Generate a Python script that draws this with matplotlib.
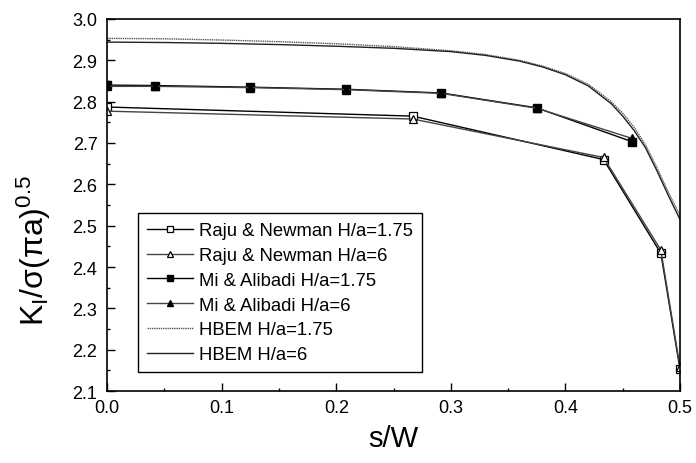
import matplotlib
matplotlib.use("Agg")
import matplotlib.pyplot as plt

plt.rcParams['font.family'] = ['Liberation Sans', 'DejaVu Sans']
plt.rcParams['mathtext.fontset'] = 'custom'
plt.rcParams['mathtext.rm'] = 'Liberation Sans'
plt.rcParams['mathtext.it'] = 'Liberation Sans:italic'
plt.rcParams['mathtext.sf'] = 'Liberation Sans'

# Raju & Newman
rn_x = [0.0, 0.2667, 0.4333, 0.4833, 0.5]
rn_175 = [2.787, 2.765, 2.660, 2.433, 2.153]
rn_6 = [2.777, 2.758, 2.665, 2.441, 2.158]

# Mi & Alibadi
ma_x = [0.0, 0.0417, 0.125, 0.2083, 0.2917, 0.375, 0.4583]
ma_175 = [2.840, 2.839, 2.835, 2.830, 2.821, 2.785, 2.703]
ma_6 = [2.837, 2.837, 2.834, 2.829, 2.820, 2.784, 2.711]

# HBEM
hb_x = [0.0, 0.05, 0.1, 0.15, 0.2, 0.25, 0.3, 0.33, 0.36, 0.38, 0.40, 0.42,
        0.44, 0.45, 0.46, 0.47, 0.48, 0.49, 0.5]
hb_175 = [2.953, 2.952, 2.949, 2.945, 2.940, 2.933, 2.923, 2.914, 2.900, 2.886,
          2.868, 2.842, 2.800, 2.772, 2.738, 2.695, 2.640, 2.580, 2.525]
hb_6 = [2.944, 2.943, 2.941, 2.938, 2.934, 2.929, 2.921, 2.912, 2.898, 2.884,
        2.865, 2.838, 2.795, 2.765, 2.730, 2.688, 2.632, 2.572, 2.515]

x_ticks = [0.0, 0.1, 0.2, 0.3, 0.4, 0.5]
y_ticks = [2.1, 2.2, 2.3, 2.4, 2.5, 2.6, 2.7, 2.8, 2.9, 3.0]

fig = plt.figure(figsize=(6.96, 4.64), dpi=100)
ax = fig.add_axes([0.154, 0.155, 0.823, 0.802])

ms = 6
ax.plot(rn_x, rn_175, '-', color='black', lw=1.0, marker='s', ms=ms,
        mfc='white', mec='black', mew=0.9, label='Raju & Newman H/a=1.75')
ax.plot(rn_x, rn_6, '-', color='#444444', lw=1.0, marker='^', ms=ms,
        mfc='white', mec='black', mew=0.9, label='Raju & Newman H/a=6')
ax.plot(ma_x, ma_175, '-', color='black', lw=1.0, marker='s', ms=ms,
        mfc='black', mec='black', label='Mi & Alibadi H/a=1.75')
ax.plot(ma_x, ma_6, '-', color='#444444', lw=1.0, marker='^', ms=ms,
        mfc='black', mec='black', label='Mi & Alibadi H/a=6')
ax.plot(hb_x, hb_175, color='#555555', lw=1.0, ls=(0, (1, 0.6)),
        label='HBEM H/a=1.75')
ax.plot(hb_x, hb_6, color='#222222', lw=1.0, ls='-', label='HBEM H/a=6')

ax.set_xlim(0.0, 0.5)
ax.set_ylim(2.1, 3.0)
ax.set_xticks(x_ticks)
ax.set_yticks(y_ticks)
ax.set_xticks([0.05, 0.15, 0.25, 0.35, 0.45], minor=True)
ax.set_yticks([2.15, 2.25, 2.35, 2.45, 2.55, 2.65, 2.75, 2.85, 2.95], minor=True)
ax.set_xticklabels([f'{v:.1f}' for v in x_ticks])
ax.set_yticklabels([f'{v:.1f}' for v in y_ticks])
ax.tick_params(which='both', direction='in', top=False, right=False,
               labelsize=13, width=1.0, color='black')
ax.tick_params(which='major', length=5.5)
ax.tick_params(which='minor', length=2.5)
ax.tick_params(axis='x', which='major', pad=5.5)
ax.tick_params(axis='y', which='major', pad=7)
for s in ax.spines.values():
    s.set_linewidth(1.2)
    s.set_color('black')

ax.set_xlabel('s/W', fontsize=21, labelpad=6)
ax.set_ylabel('K$_\\mathregular{I}$/σ(πa)$^\\mathregular{0.5}$', fontsize=23)
ax.yaxis.set_label_coords(-0.095, 0.38)

leg = ax.legend(loc='lower left', bbox_to_anchor=(0.053, 0.05), fontsize=13.3,
                frameon=True, fancybox=False, framealpha=1, edgecolor='black',
                handlelength=2.5, handletextpad=0.3, borderpad=0.5,
                labelspacing=0.42, markerscale=0.7, borderaxespad=0)
leg.get_frame().set_linewidth(1.0)

fig.savefig('out.png', dpi=100)
